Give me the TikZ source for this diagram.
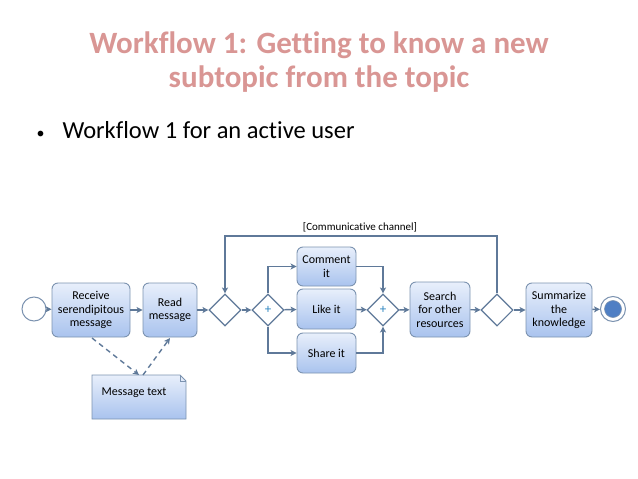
\documentclass[tikz,border=0pt]{standalone}
\usepackage{fontspec}
\setmainfont{Carlito}[Ligatures=CommonOff]
\usetikzlibrary{shapes.geometric,arrows.meta,positioning}
\definecolor{titlecol}{HTML}{D99694}
\definecolor{boxtop}{HTML}{E8EFFB}
\definecolor{boxbot}{HTML}{A9C3EE}
\definecolor{boxline}{HTML}{7C93B0}
\definecolor{conn}{HTML}{5F7999}
\definecolor{endfill}{HTML}{4F7FC4}
\definecolor{plus}{HTML}{2E86C1}
\tikzset{
  task/.style={draw=boxline, line width=0.9pt, rounded corners=6pt, top color=boxtop, bottom color=boxbot,
    align=center, font=\fontsize{12}{13.5}\selectfont, inner sep=0pt},
  gate/.style={draw=conn, line width=1.1pt, fill=white, diamond, minimum width=32pt, minimum height=32pt, inner sep=0pt,
    font=\fontsize{13}{13}\selectfont\color{plus}},
  flow/.style={draw=conn, line width=1.4pt, -{Stealth[length=6pt,width=6pt,inset=1.5pt]}},
  assoc/.style={draw=conn, line width=1.4pt, dash pattern=on 5pt off 4pt, -{Stealth[length=6pt,width=6pt,inset=1.5pt]}},
}
\begin{document}
\begin{tikzpicture}[x=1pt,y=-1pt]
\useasboundingbox (0,0) rectangle (638,479);
% title
\node[font=\fontsize{31}{33.5}\selectfont\bfseries, text=titlecol, align=center] (title) at (319,62)
  {Workflow 1: Getting to know a new\\subtopic from the topic};
\node[font=\fontsize{24.5}{26}\selectfont, anchor=west] (bullet) at (33,130) {{\fontsize{16}{16}\selectfont\textbullet}\hspace{18pt}Workflow 1 for an active user};
% start / end
\node[circle, draw=boxline, line width=1pt, fill=white, minimum size=24pt, inner sep=0pt] (start) at (34,309) {};
\node[circle, draw=boxline, line width=1pt, fill=white, minimum size=25pt, inner sep=0pt] (end) at (613,309) {};
\node[circle, draw=boxline, line width=0.6pt, fill=endfill, minimum size=17pt, inner sep=0pt] (endin) at (613,309) {};
% tasks
\node[task, minimum width=78pt, minimum height=54pt] (recv) at (91,310) {Receive\\serendipitous\\message};
\node[task, minimum width=54pt, minimum height=54pt] (read) at (170,310) {Read\\message};
\node[gate] (g1) at (225,310) {};
\node[gate] (g2) at (268,310) {+};
\node[task, minimum width=59pt, minimum height=39pt] (comment) at (326.5,266.5) {Comment\\it};
\node[task, minimum width=59pt, minimum height=40pt] (like) at (326.5,309) {Like it};
\node[task, minimum width=59pt, minimum height=40pt] (share) at (326.5,353) {Share it};
\node[gate] (g3) at (383,310) {+};
\node[task, minimum width=60pt, minimum height=55pt] (search) at (440,309.5) {Search\\for other\\resources};
\node[gate] (g4) at (497,310) {};
\node[task, minimum width=66pt, minimum height=54pt] (summ) at (559,310) {Summarize\\the\\knowledge};
% message text document
\coordinate (dA) at (92,375);
\coordinate (dB) at (180,375);
\coordinate (dC) at (186,381);
\coordinate (dD) at (186,419);
\coordinate (dE) at (92,419);
\path[draw=boxline, line width=0.9pt, top color=boxtop, bottom color=boxbot] (dA) -- (dB) -- (dC) -- (dD) -- (dE) -- cycle;
\draw[boxline, line width=0.7pt] (dB) -- (180,381) -- (dC);
\node[font=\fontsize{12}{14}\selectfont] (doc) at (134,393) {Message text};
\coordinate (doctop) at (139,375);
\coordinate (doctopr) at (143,375);
% flows
\draw[flow] (start) -- (recv);
\draw[flow] (recv) -- (read);
\draw[flow] (read) -- (g1);
\draw[flow] (g1) -- (g2);
\draw[flow] (g2.north) |- (comment.west);
\draw[flow] (g2) -- (like);
\draw[flow] (g2.south) |- (share.west);
\draw[flow] (comment.east) -| (g3.north);
\draw[flow] (like) -- (g3);
\draw[flow] (share.east) -| (g3.south);
\draw[flow] (g3) -- (search);
\draw[flow] (search) -- (g4);
\draw[flow] (g4) -- (summ);
\draw[flow] (summ) -- (end);
\coordinate (loopR) at (497,236);
\coordinate (loopL) at (225,236);
\draw[flow] (g4.north) -- (loopR) -- (loopL) -- (g1.north);
\node[font=\fontsize{11}{12}\selectfont, anchor=south] (chan) at (360,235.5) {[Communicative channel]};
% associations
\draw[assoc] (92,338) -- (doctop);
\draw[assoc] (doctopr) -- (170,338);
\end{tikzpicture}
\end{document}
